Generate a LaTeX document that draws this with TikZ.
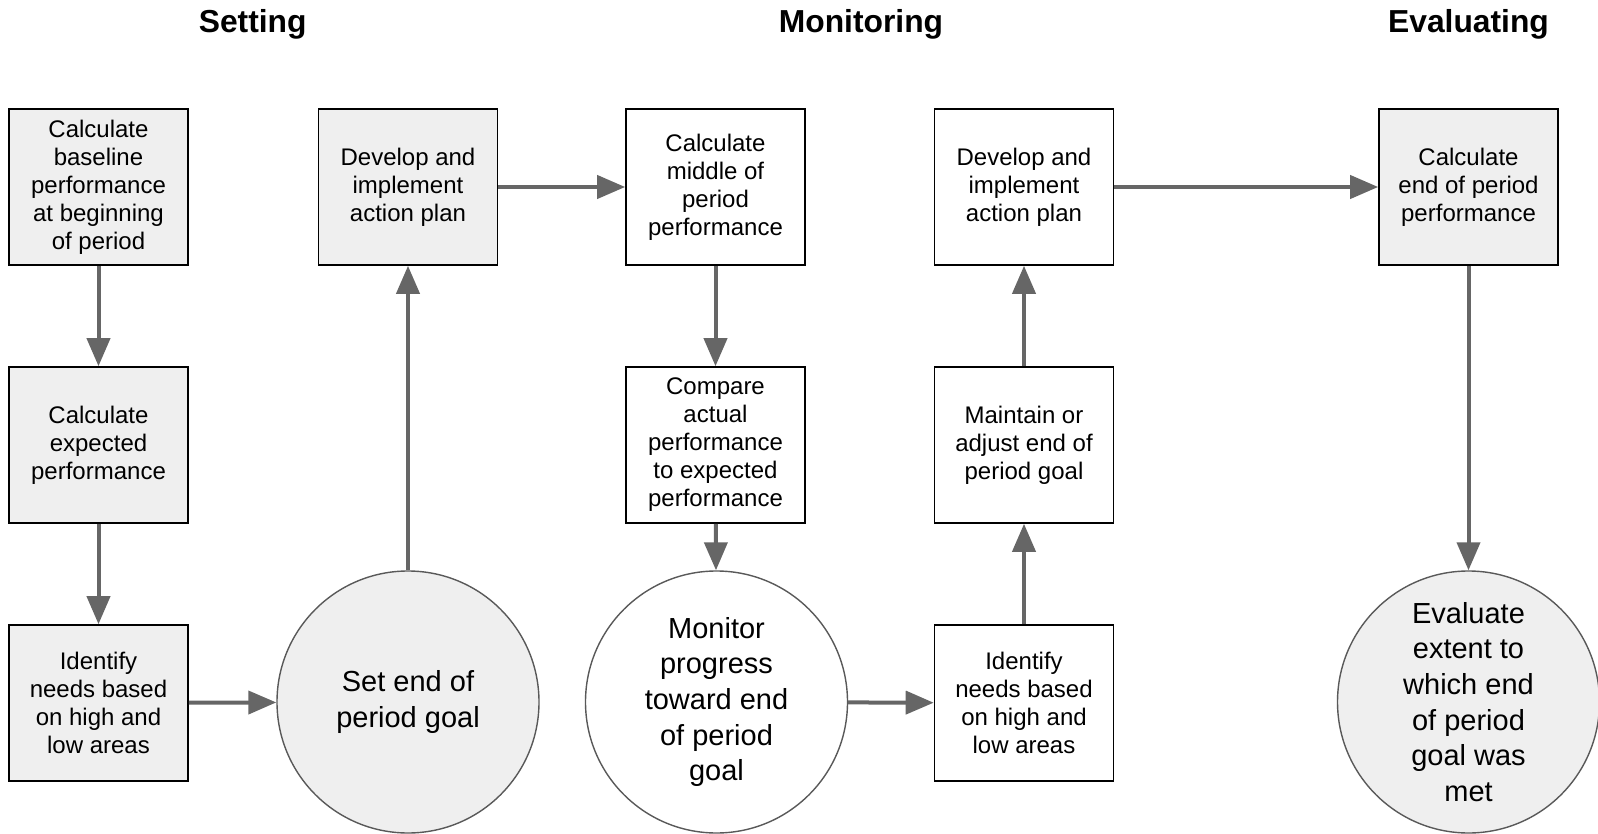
\documentclass[tikz,border=0pt]{standalone}
\usepackage{fontspec}
\setmainfont{Liberation Sans}
\usetikzlibrary{arrows.meta}
\definecolor{boxgray}{HTML}{EFEFEF}
\definecolor{linegray}{HTML}{666666}
\definecolor{rimgray}{HTML}{595959}

\begin{document}
\begin{tikzpicture}[
            x = 1pt, y = -1pt, % one unit per pixel, y runs down
            flow/.style = {draw=linegray, fill=linegray, line width=4pt,
            -{Triangle[length=28pt, width=23pt]}}, % arrow style
            box/.style = {draw=black, rectangle, line width=1.6pt, minimum width=179pt,
            minimum height=156pt, inner sep=0pt, align=center,
            font=\fontsize{24}{28}\selectfont},
            ring/.style = {draw=rimgray, circle, line width=1.4pt, minimum size=262pt,
            inner sep=0pt, align=center, font=\fontsize{29}{35.6}\selectfont},
            title/.style = {font=\fontsize{31.8}{36}\selectfont\bfseries}
            ]
            \useasboundingbox (0,0) rectangle (1598,834);

            \node[title] (t1) at (252.7,24.5) {Setting};
            \node[title] (t2) at (861,24.5) {Monitoring};
            \node[title] (t3) at (1468.5,24.5) {Evaluating};

            % setting
            \node[box, fill=boxgray] (1) at (98.5,187) {Calculate\\baseline\\performance\\at beginning\\of period};
            \node[box, fill=boxgray] (2) at (98.5,445) {Calculate\\expected\\performance};
            \node[box, fill=boxgray] (3) at (98.5,703) {Identify\\needs based\\on high and\\low areas};
            \node[box, fill=boxgray] (4) at (408,187) {Develop and\\implement\\action plan};
            \node[ring, fill=boxgray] (5) at (408,702) {Set end of\\period goal};

            % monitoring
            \node[box, fill=white] (6) at (715.5,187) {Calculate\\middle of\\period\\performance};
            \node[box, fill=white] (7) at (715.5,445) {Compare\\actual\\performance\\to expected\\performance};
            \node[ring, fill=white] (8) at (716.5,702) {Monitor\\progress\\toward end\\of period\\goal};
            \node[box, fill=white] (9) at (1024,187) {Develop and\\implement\\action plan};
            \node[box, fill=white] (10) at (1024,445) {Maintain or\\adjust end of\\period goal};
            \node[box, fill=white] (11) at (1024,703) {Identify\\needs based\\on high and\\low areas};

            % evaluating
            \node[box, fill=boxgray] (12) at (1468.5,187) {Calculate\\end of period\\performance};
            \node[ring, fill=boxgray] (13) at (1468.5,702) {Evaluate\\extent to\\which end\\of period\\goal was\\met};

            \draw[flow] (1) -- (2);
            \draw[flow] (2) -- (3);
            \draw[flow] (3) -- (5);
            \draw[flow] (5) -- (4);
            \draw[flow] (4) -- (6);
            \draw[flow] (6) -- (7);
            \draw[flow] (7) -- (8);
            \draw[flow] (8) -- (11);
            \draw[flow] (11) -- (10);
            \draw[flow] (10) -- (9);
            \draw[flow] (9) -- (12);
            \draw[flow] (12) -- (13);
        \end{tikzpicture}
\end{document}
